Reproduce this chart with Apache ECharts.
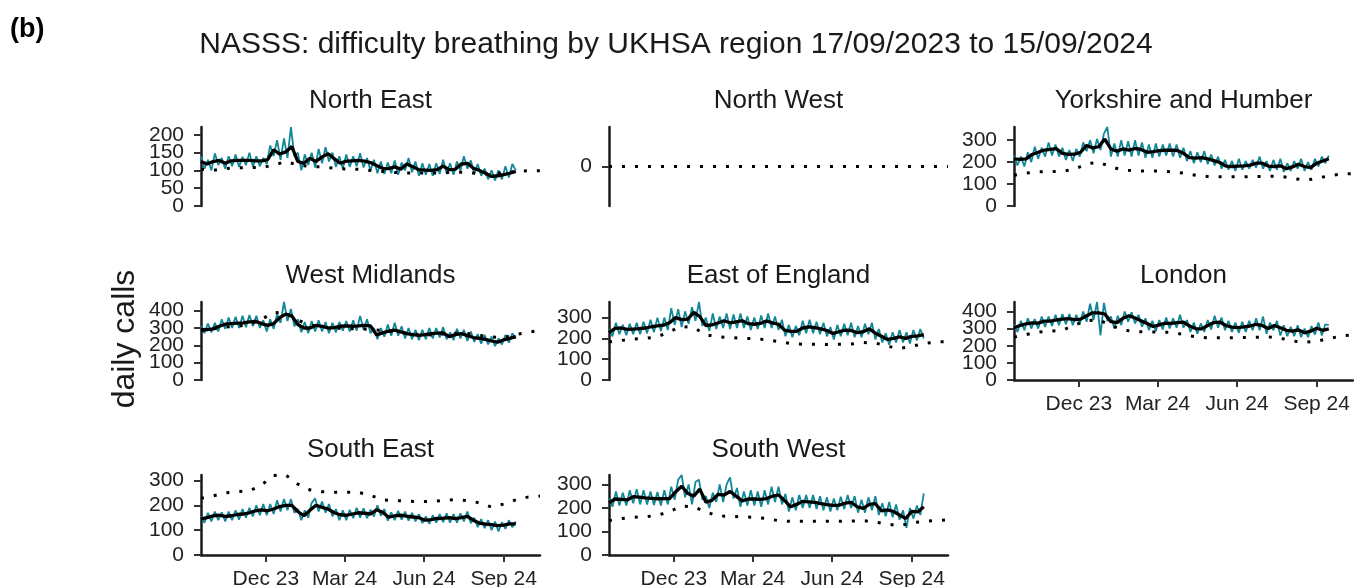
<!DOCTYPE html>
<html><head><meta charset="utf-8">
<script src="https://cdn.jsdelivr.net/npm/echarts@6/dist/echarts.min.js"></script>
<style>html,body{margin:0;padding:0;background:#fff}#c{width:1354px;height:587px}</style>
</head><body><div id="c"></div>
<script>
// ---- axis / time definitions (day 0 = 17/09/2023) ----
const TEAL_STEP = 4;   // daily calls sampled every 4 days
const AVG_STEP = 7;    // 7-day average, weekly points
const BASE_STEP = 14;  // baseline, fortnightly points
const X_MAX = 392;     // 13/10/2024
const xTickDays = [75, 166, 258, 350];
const xTickLabels = ['Dec 23', 'Mar 24', 'Jun 24', 'Sep 24'];
const regions = ['North East','North West','Yorkshire and Humber','West Midlands','East of England','London','South East','South West'];

// ---- y tick labels ----
const neTicks = [0,50,100,150,200];
const nwTicks = [0];
const yhTicks = [0,100,200,300];
const wmTicks = [0,100,200,300,400];
const eeTicks = [0,100,200,300];
const lnTicks = [0,100,200,300,400];
const seTicks = [0,100,200,300];
const swTicks = [0,100,200,300];

// ---- North East ----
const neDaily = [140,105,130,100,148,115,135,105,140,112,145,110,138,115,150,110,140,112,135,118,170,140,185,130,190,135,222,140,150,100,145,115,150,108,160,120,165,125,150,110,140,105,145,110,140,112,148,108,135,100,130,92,125,90,122,92,128,88,122,100,135,95,125,85,120,88,118,85,120,90,130,92,120,88,125,100,140,105,128,90,118,85,105,75,100,72,100,75,112,80,118,100];
const neAvg = [125,118,125,128,120,127,128,128,128,127,127,130,158,146,152,167,125,120,134,125,138,147,133,120,126,127,128,126,122,114,106,105,110,103,118,110,102,101,100,102,112,102,103,118,120,106,100,92,83,85,88,92,97];
const neBase = [103,100,105,107,108,108,115,125,115,111,110,106,104,103,100,97,94,93,93,93,93,95,95,90,90,94,97,99,99];

// ---- North West (no data, baseline 0) ----
const nwDaily = [];
const nwAvg = [];
const nwBase = [0,0,0,0,0,0,0,0,0,0,0,0,0,0,0,0,0,0,0,0,0,0,0,0,0,0,0,0,0];

// ---- Yorkshire and Humber ----
const yhDaily = [230,185,225,180,245,200,270,215,265,225,290,230,280,225,265,210,255,205,260,225,290,250,300,240,305,255,330,360,225,285,225,300,230,295,225,300,230,290,220,280,220,285,225,280,230,285,225,280,220,265,205,250,195,245,200,250,190,235,185,225,170,210,165,205,160,215,165,205,170,210,175,225,170,205,160,210,165,215,155,195,160,205,170,215,160,200,165,215,180,225,195,230];
const yhAvg = [215,212,215,235,245,255,258,261,240,235,236,245,276,265,270,305,260,250,260,255,262,258,245,248,252,254,255,253,240,220,218,220,215,207,198,182,180,182,183,186,195,195,182,180,183,170,178,190,180,175,195,205,215];
const yhBase = [140,150,156,157,158,168,192,200,178,164,160,160,160,156,150,140,134,133,133,133,134,136,136,126,118,125,138,145,148];

// ---- West Midlands ----
const wmDaily = [310,270,325,275,330,280,350,295,360,300,365,300,370,305,375,310,370,300,345,280,350,295,380,330,450,340,410,310,350,275,335,270,340,280,345,280,335,270,330,275,335,285,340,280,345,285,370,290,350,270,300,235,300,250,320,255,330,255,310,240,300,235,290,230,290,235,300,240,300,245,305,235,275,230,295,240,290,225,280,220,265,210,260,205,250,195,240,205,260,215,270,240];
const wmAvg = [292,290,295,310,322,325,328,330,335,338,325,315,325,360,380,370,320,300,300,315,310,300,302,310,312,310,312,315,312,260,272,282,288,278,268,262,258,262,268,270,272,250,262,268,256,245,240,234,225,218,232,240,250];
const wmBase = [285,295,305,310,320,350,390,385,345,318,305,300,296,295,292,286,278,270,262,260,265,270,268,258,248,245,262,276,286];

// ---- East of England ----
const eeDaily = [245,210,275,220,265,215,270,220,275,220,280,225,290,230,300,235,300,240,345,265,340,255,330,270,350,285,375,260,300,235,320,245,305,250,320,245,315,250,320,250,305,240,300,245,310,250,320,250,305,240,290,210,265,205,260,215,285,225,290,225,280,220,275,210,255,195,265,210,270,215,275,205,260,205,270,220,275,195,245,180,225,170,230,180,240,180,230,175,240,190,245,200];
const eeAvg = [228,248,250,243,245,247,250,256,260,264,275,300,290,292,325,305,262,265,274,285,275,280,285,271,268,272,284,275,268,240,234,234,250,255,252,246,238,224,232,240,238,228,232,246,225,210,195,200,207,200,210,212,218];
const eeBase = [183,190,197,200,208,232,258,252,218,207,204,200,199,194,185,175,172,172,171,172,173,180,178,162,152,162,175,183,184];

// ---- London ----
const lnDaily = [325,280,345,290,360,300,355,300,370,310,370,315,380,320,385,325,385,320,380,325,400,340,445,350,455,260,450,345,370,300,375,320,400,340,395,330,380,310,360,290,345,285,350,295,365,300,360,305,380,305,350,280,335,270,330,280,350,295,375,305,365,290,345,280,335,275,340,280,345,290,360,290,370,270,335,290,345,260,320,255,310,255,320,250,300,250,315,265,335,260,325,320];
const lnAvg = [305,318,328,333,332,343,343,350,355,358,352,355,375,392,392,385,340,335,360,375,362,345,330,312,322,332,330,335,338,315,300,298,318,335,338,318,308,306,310,315,325,318,300,318,305,290,285,292,275,285,302,290,298];
const lnBase = [250,265,280,285,290,320,345,352,318,292,282,280,279,278,265,252,246,246,247,248,249,252,244,228,220,226,242,256,264];

// ---- South East ----
const seDaily = [155,130,170,135,175,140,172,135,175,140,180,142,185,150,190,155,200,160,205,160,205,165,220,175,225,180,225,170,185,140,180,150,210,228,175,215,170,205,155,185,140,180,140,182,148,190,150,188,148,182,155,200,158,185,138,172,140,178,142,175,138,170,135,165,128,155,125,160,130,165,132,168,130,165,130,168,135,175,128,150,112,145,108,140,100,135,95,132,105,140,112,135];
const seAvg = [145,150,158,160,155,158,163,165,170,178,182,178,185,195,200,200,175,158,180,200,192,185,170,162,160,165,170,168,165,182,172,152,158,160,156,153,150,140,142,147,148,150,146,150,155,140,128,124,122,118,120,125,125];
const seBase = [228,238,250,255,258,282,320,322,285,262,255,253,253,252,240,222,219,217,215,215,220,223,219,210,193,205,222,233,237];

// ---- South West ----
const swDaily = [240,205,270,210,265,210,275,220,280,215,275,215,270,212,268,210,275,215,290,235,320,340,245,300,215,310,320,235,250,200,265,225,300,225,300,330,240,285,205,270,210,275,210,270,205,275,215,290,225,290,215,260,185,245,190,255,200,255,200,255,195,250,190,245,185,240,190,248,195,255,200,250,180,235,180,245,190,250,170,220,165,225,160,215,150,190,115,200,155,210,170,262];
const swAvg = [222,238,236,234,248,246,243,241,239,240,240,268,292,262,250,280,225,232,258,255,270,250,230,238,238,236,240,250,255,232,205,215,228,226,224,218,214,211,212,220,224,205,198,215,218,188,192,185,170,155,185,183,205];
const swBase = [146,155,160,163,168,185,208,205,183,166,164,162,160,155,146,143,143,143,143,143,144,146,140,131,124,137,143,147,149];

// ---- layout ----
const colLeft = [201, 609, 1014];
const colWidth = 339;
const rowTop = [127, 302, 475];
const rowHeight = [79, 78, 80];
const titleY = [101, 276, 450];

const panels = [
  {daily: neDaily, avg: neAvg, base: neBase, ticks: neTicks, row: 0, col: 0, xAxis: false},
  {daily: nwDaily, avg: nwAvg, base: nwBase, ticks: nwTicks, row: 0, col: 1, xAxis: false, min: -1, max: 1},
  {daily: yhDaily, avg: yhAvg, base: yhBase, ticks: yhTicks, row: 0, col: 2, xAxis: false},
  {daily: wmDaily, avg: wmAvg, base: wmBase, ticks: wmTicks, row: 1, col: 0, xAxis: false},
  {daily: eeDaily, avg: eeAvg, base: eeBase, ticks: eeTicks, row: 1, col: 1, xAxis: false},
  {daily: lnDaily, avg: lnAvg, base: lnBase, ticks: lnTicks, row: 1, col: 2, xAxis: true},
  {daily: seDaily, avg: seAvg, base: seBase, ticks: seTicks, row: 2, col: 0, xAxis: true},
  {daily: swDaily, avg: swAvg, base: swBase, ticks: swTicks, row: 2, col: 1, xAxis: true}
];

const FONT = '"Liberation Sans", Arial, Helvetica, sans-serif';
const TEAL = '#13879a';
const AXIS = '#1a1a1a';

const grids = [], xAxes = [], yAxes = [], series = [], graphics = [];
panels.forEach((p, i) => {
  grids.push({left: colLeft[p.col], top: rowTop[p.row], width: colWidth, height: rowHeight[p.row], outerBoundsMode: 'none', containLabel: false});
  xAxes.push({
    gridIndex: i, type: 'value', min: 0, max: X_MAX,
    axisLine: {show: p.xAxis, onZero: false, lineStyle: {color: AXIS, width: 2.5}},
    axisTick: {show: p.xAxis, length: 7, customValues: xTickDays, lineStyle: {color: '#333', width: 2}},
    axisLabel: {show: p.xAxis, customValues: xTickDays, margin: 14, fontSize: 21, color: '#222', fontFamily: FONT,
      showMinLabel: true, showMaxLabel: true, hideOverlap: false,
      formatter: v => xTickLabels[xTickDays.indexOf(v)] || ''},
    splitLine: {show: false}
  });
  const all = p.daily.concat(p.avg, p.base);
  const ymin = p.min !== undefined ? p.min : 0;
  const ymax = p.max !== undefined ? p.max : Math.max.apply(null, all);
  // labels split over two stacked axes so that ECharts does not drop tightly packed labels
  const evenTicks = p.ticks.filter((t, k) => k % 2 === 0);
  const oddTicks = p.ticks.filter((t, k) => k % 2 === 1);
  [evenTicks, oddTicks].forEach((tv, j) => {
    if (!tv.length) return;
    yAxes.push({
      gridIndex: i, type: 'value', position: 'left', offset: 0, min: ymin, max: ymax,
      axisLine: {show: j === 0, onZero: false, lineStyle: {color: AXIS, width: 2.5}},
      axisTick: {show: true, length: 7, customValues: tv, lineStyle: {color: '#333', width: 2}},
      axisLabel: {customValues: tv, margin: 17, fontSize: 21, color: '#222', fontFamily: FONT,
        showMinLabel: true, showMaxLabel: true, hideOverlap: false},
      splitLine: {show: false}
    });
  });
  const yi = yAxes.length - (oddTicks.length ? 2 : 1);
  series.push({type: 'line', xAxisIndex: i, yAxisIndex: yi, showSymbol: false, silent: true, z: 2,
    data: p.daily.map((v, k) => [k * TEAL_STEP, v]), lineStyle: {color: TEAL, width: 1.8}});
  series.push({type: 'line', xAxisIndex: i, yAxisIndex: yi, showSymbol: false, silent: true, z: 3,
    data: p.avg.map((v, k) => [k * AVG_STEP, v]), lineStyle: {color: '#000', width: 3.3}});
  series.push({type: 'line', xAxisIndex: i, yAxisIndex: yi, showSymbol: false, silent: true, z: 4,
    data: p.base.map((v, k) => [k * BASE_STEP, v]), lineStyle: {color: '#000', width: 3, type: [3, 10], cap: 'butt'}});
  graphics.push({type: 'text', x: colLeft[p.col] + colWidth / 2, y: titleY[p.row],
    style: {text: regions[i], fontSize: 26, fontFamily: FONT, fill: '#1a1a1a', align: 'center', verticalAlign: 'middle', textAlign: 'center', textVerticalAlign: 'middle'}});
});

graphics.push({type: 'text', x: 676, y: 45,
  style: {text: 'NASSS: difficulty breathing by UKHSA region 17/09/2023 to 15/09/2024', fontSize: 30, fontFamily: FONT, fill: '#1a1a1a', align: 'center', verticalAlign: 'middle', textAlign: 'center', textVerticalAlign: 'middle'}});
graphics.push({type: 'text', x: 10, y: 30,
  style: {text: '(b)', fontSize: 27, fontWeight: 'bold', fontFamily: FONT, fill: '#000', align: 'left', verticalAlign: 'middle', textAlign: 'left', textVerticalAlign: 'middle'}});
graphics.push({type: 'text', x: 125, y: 339, rotation: Math.PI / 2,
  style: {text: 'daily calls', fontSize: 32, fontFamily: FONT, fill: '#1a1a1a', align: 'center', verticalAlign: 'middle', textAlign: 'center', textVerticalAlign: 'middle'}});

const chart = echarts.init(document.getElementById('c'), null, {renderer: 'canvas'});
chart.setOption({
  animation: false,
  backgroundColor: '#fff',
  grid: grids, xAxis: xAxes, yAxis: yAxes, series: series,
  graphic: {elements: graphics}
});
</script></body></html>
